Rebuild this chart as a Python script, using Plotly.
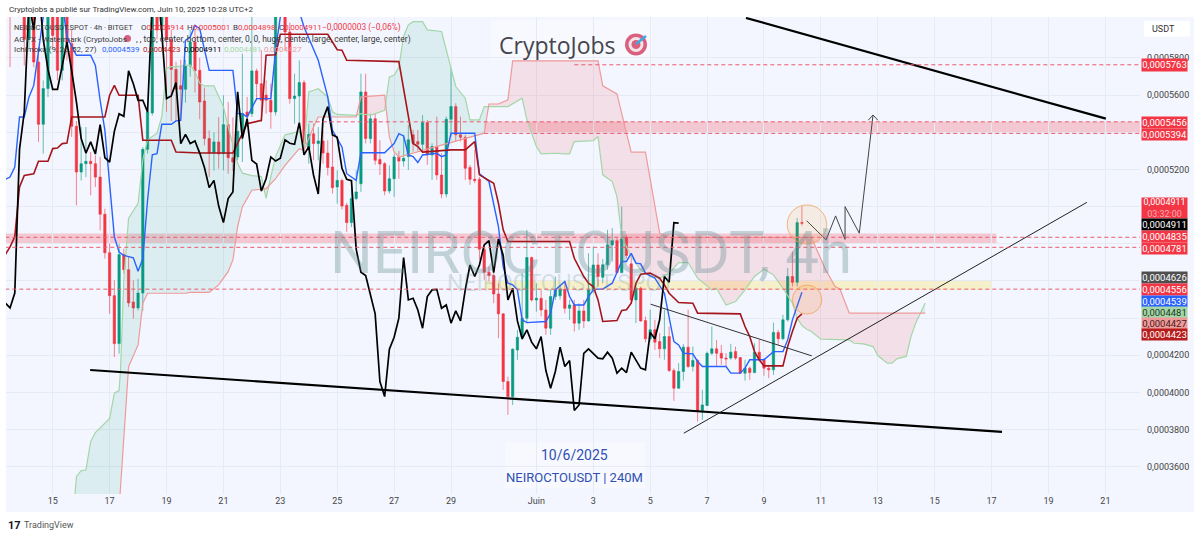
import numpy as np
import pandas as pd
import plotly.graph_objects as go

# Prices are in units of 1e-7 USDT, one row per 4h bar
opens = [6250,6300,6200,6300,6200,5900,6200,5778,5443,5635,6100,6030,5733,6050,5877,5432,5186,5231,5244,5231,
 5159,4959,4752,4521,4263,4742,4661,4487,4455,4535,5308,5504,6200,5950,6200,5900,5738,5650,5631,5757,
 5885,5733,5568,5366,5288,5348,5285,5441,5263,5267,5405,5509,5500,5730,5661,5600,5572,5509,6100,6150,
 5939,5581,5595,5667,5312,5392,5339,5353,5288,5213,5106,5141,5007,4914,5043,5123,5617,5366,5473,5254,
 5231,5084,5150,5267,5245,5269,5386,5350,5335,5452,5278,5323,5170,5068,5470,5538,5386,5373,5211,5147,
 5147,4771,4647,4629,4530,4423,4059,3978,4229,4297,4400,4726,4498,4507,4444,4346,4516,4520,4555,4453,
 4471,4373,4439,4385,4552,4686,4620,4687,4794,4817,4645,4835,4692,4498,4561,4387,4289,4337,4274,4235,
 4301,4118,4023,4113,4244,4140,4172,3903,3930,4211,4235,4211,4185,4185,4220,4188,4104,4131,4107,4217,
 4176,4131,4122,4323,4289,4391,4624,4593,4914]
highs = [6400,6400,6300,6450,6300,6300,6300,5850,5679,6300,6200,6200,6150,6100,5950,5460,5428,5428,5294,5276,
 5267,4989,4801,4604,4801,4774,4729,4604,4612,5320,5536,6200,6300,6300,6300,5950,5780,5790,5790,5950,
 5950,5800,5640,5410,5400,5482,5599,5563,5480,5617,5823,5590,6020,5742,5841,5680,5661,6200,6300,6200,
 5990,5715,5787,5680,5446,5446,5428,5410,5357,5392,5195,5150,5020,5097,5195,5715,5715,5500,5500,5357,
 5240,5222,5285,5300,5386,5440,5413,5413,5493,5466,5340,5484,5287,5484,5744,5556,5484,5386,5224,5305,
 5160,4803,4677,4642,4588,4426,4085,4238,4337,4642,4875,4731,4588,4552,4498,4552,4624,4580,4597,4498,
 4498,4480,4498,4749,4785,4749,4719,4875,4884,4830,5000,4848,4749,4590,4570,4409,4445,4391,4319,4445,
 4355,4130,4158,4260,4445,4247,4180,4014,4220,4355,4283,4256,4212,4262,4247,4190,4176,4140,4265,4283,
 4185,4149,4376,4337,4418,4669,4758,4938,5001]
lows = [5670,5751,6100,6150,5760,5850,5750,5348,5285,5590,5850,5680,5679,5787,5375,5007,5141,5159,5061,5106,
 4872,4720,4424,4191,4209,4640,4460,4397,4442,4439,5285,5490,5900,5900,5510,5460,5460,5480,5560,5700,
 5614,5470,5330,5160,5195,5204,5195,5177,5190,5249,5240,5428,5482,5572,5455,5500,5419,5490,6050,5841,
 5554,5446,5455,5290,5231,5249,5249,5231,5168,5070,5016,4985,4864,4890,5034,5079,5340,5340,5225,5170,
 5061,5070,5052,5150,5215,5197,5296,5300,5287,5224,5144,5144,5045,5050,5377,5350,5350,5144,5117,5126,
 4713,4606,4597,4480,4292,4014,3880,3933,4175,4283,4373,4489,4435,4409,4310,4310,4498,4500,4426,4391,
 4328,4337,4346,4382,4534,4570,4588,4660,4705,4642,4642,4720,4480,4373,4380,4270,4274,4229,4185,4176,
 4110,3955,4020,4064,4131,4113,3844,3853,3928,4202,4140,4149,4140,4176,4176,4100,4064,4068,4104,4167,
 4090,4077,4095,4256,4283,4382,4570,4570,4898]
closes = [6300,6150,6300,6350,5900,6200,5778,5443,5635,6100,5921,5733,6050,5880,5432,5186,5231,5244,5231,5159,
 4959,4752,4521,4263,4742,4661,4482,4455,4535,5308,5509,6100,5950,6200,5900,5738,5631,5631,5757,5885,
 5730,5563,5366,5288,5348,5283,5441,5263,5240,5405,5500,5486,5730,5661,5572,5572,5509,6100,6200,5939,
 5581,5595,5667,5339,5389,5339,5353,5288,5210,5102,5141,5003,4914,5043,5079,5617,5366,5473,5249,5229,
 5084,5150,5267,5245,5260,5359,5341,5335,5452,5278,5323,5170,5068,5470,5538,5386,5373,5206,5147,5140,
 4771,4647,4629,4530,4423,4059,3978,4233,4297,4400,4726,4498,4507,4444,4346,4516,4552,4555,4453,4471,
 4373,4439,4385,4552,4686,4624,4687,4794,4817,4645,4826,4737,4498,4561,4385,4289,4337,4271,4235,4301,
 4118,4023,4113,4244,4140,4172,3903,3933,4211,4235,4211,4185,4181,4217,4185,4104,4131,4107,4217,4176,
 4131,4122,4323,4289,4391,4624,4593,4914,4911]

tenkan_i = [0,1,2,3,4,5,6,7,8,9,12,13,15,18,19,20,21,22,23,24,25,27,28,29,30,31,32,33,35,36,37,38,39,40,41,43,48,49,50,51,53,56,57,58,60,62,63,66,68,69,71,72,74,75,80,82,83,84,85,86,87,88,91,92,93,94,99,100,102,104,105,106,107,108,109,110,114,115,116,118,119,120,122,123,124,125,126,128,129,130,131,132,133,134,135,137,139,140,141,142,143,145,146,147,152,153,155,156,157,160,162,164,165,166,167,168]
tenkan_v = [5147,5159,5213,5482,5482,5590,5652,5841,6020,6150,6100,5912,5814,5814,5760,5572,5410,5123,4837,4756,4738,4725,4652,4720,5034,5279,5285,5443,5443,5461,5464,5894,5912,5975,5957,5733,5733,5500,5500,5482,5581,5581,5841,6020,6150,6050,5966,5787,5590,5410,5321,5177,5141,5290,5290,5339,5392,5380,5278,5269,5237,5278,5287,5269,5278,5395,5395,5176,5135,4893,4677,4588,4579,4552,4391,4376,4382,4426,4552,4597,4516,4471,4471,4516,4552,4556,4556,4588,4642,4705,4705,4749,4696,4692,4642,4615,4534,4409,4274,4256,4211,4208,4167,4140,4140,4104,4104,4131,4176,4176,4220,4220,4283,4391,4471,4539]

kijun_i = [0,1,2,3,4,6,7,9,10,11,12,13,14,20,21,22,23,24,28,29,35,36,41,48,51,54,55,57,58,68,70,71,72,83,84,85,86,87,88,94,97,99,100,103,104,105,106,119,120,122,123,124,125,126,129,130,131,132,133,134,136,138,139,140,142,145,146,155,156,157,158,159,160,164,165,166,167,168]
kijun_v = [4742,4783,4837,5106,5168,5177,5244,5244,5312,5315,5339,5342,5482,5482,5482,5599,5652,5599,5599,5357,5357,5294,5288,5288,5446,5464,5814,5817,5927,5927,5844,5841,5787,5780,5640,5500,5340,5323,5293,5305,5305,5350,5171,5126,5018,4875,4812,4812,4722,4624,4588,4570,4498,4382,4387,4441,4445,4480,4588,4636,4642,4615,4579,4534,4484,4480,4427,4423,4355,4301,4220,4176,4143,4143,4247,4328,4400,4423]

span_a_i = [14.7,15,16,17,18,19,22,23,24,24.3,25,26,28,29,30,31,32,33,34,35,36,39,40,41,42,44,46,47,49,50,52,54,55,56,57,59,62,63,64,66,68,69,70,74,75,77,80,81,82,83,84,85,86,88,89,92,94,95,97,98,100,101,106,109,110,112,113,116,118,119,120,124,125,126,128,129,130,132,134,136,138,140,142,144,146,148,149,150,152,154,156,158,160,162,164,166,167,168,169,170,172,178,179,181,183,184,186,187,188,190,191,192,194]
span_a_v = [3453,3547,3580,3583,3736,3784,3861,3996,4010,4121,4605,4938,5018,5251,5359,5377,5395,5484,5744,5753,5753,5762,5727,5664,5649,5649,5538,5431,5233,5180,5167,5162,5045,5162,5269,5386,5404,5323,5617,5634,5590,5510,5496,5491,5500,5491,5518,5697,5706,5751,5915,5978,5995,5995,5951,5942,5753,5646,5583,5467,5467,5538,5538,5583,5467,5323,5284,5287,5284,5284,5350,5355,5377,5171,5135,5054,4839,4731,4660,4624,4615,4642,4699,4699,4615,4570,4552,4561,4471,4489,4552,4624,4663,4633,4561,4480,4400,4360,4340,4328,4287,4283,4265,4262,4247,4199,4158,4158,4181,4194,4301,4373,4481]

span_b_i = [24.2,25,26,27,28,29,30,38,39,43,45,47,48,49,50,52,55,57,59,62,63,65,66,74,75,80,81,82,83,101,102,104,106,107,125,126,129,131,132,135,138,140,170,171,173,175,176,178,194]
span_b_v = [3453,3763,4139,4197,4256,4480,4534,4534,4539,4539,4579,4650,4713,4893,5000,5088,5097,5150,5222,5312,5303,5428,5482,5482,5590,5599,5375,5294,5267,5395,5552,5552,5574,5784,5784,5650,5606,5395,5293,5293,4857,4835,4835,4776,4660,4570,4557,4427,4427]

floor_i = [17.9,210.2]
floor_v = [4121,3788]
ceiling_i = [156.2,232.1]
ceiling_v = [6015,5473]
rising_i = [143.1,228.1]
rising_v = [3781,5023]
falling_i = [136.1,170.1]
falling_v = [4475,4197]
path_i = [169.0,173.1,175.1,177.1,177.1,180.1,183.0]
path_v = [4924,4821,4950,4824,5000,4857,5493]
head_i = [182.0,183.0,184.0]
head_v = [5465,5493,5465]

levels = [5763,5456,5394,4835,4781,4556]
level_start = [120,64,101,0,0,0]

tick_prices = [3600,3800,4000,4200,4400,4600,4800,5000,5200,5400,5600,5800]
# labels at 4400-5000 and 5400 sit fully behind price tags in the reference
tick_price_text = ["0,0003600","0,0003800","0,0004000","0,0004200","","","","","0,0005200","","0,0005600","0,0005800"]
date_ticks = ["2025-05-15","2025-05-17","2025-05-19","2025-05-21","2025-05-23","2025-05-25","2025-05-27","2025-05-29",
              "2025-06-01","2025-06-03","2025-06-05","2025-06-07","2025-06-09","2025-06-11","2025-06-13","2025-06-15",
              "2025-06-17","2025-06-19","2025-06-21"]
date_text = ["15","17","19","21","23","25","27","29","Juin","3","5","7","9","11","13","15","17","19","21"]

# (text, top px, bottom px, background, text colour)
price_tags = [
 ("0,0005763",59.5,71,"#F23645","#ffffff"),("0,0005456",117,128,"#F23645","#ffffff"),
 ("0,0005394",129,140,"#F23645","#ffffff"),
 ("0,0004911<br><span style='color:#F9A9B0'>03:32:00</span>",198,218,"#F23645","#ffffff"),
 ("0,0004911",218.5,229.5,"#000000","#ffffff"),("0,0004835",231.5,242,"#F23645","#ffffff"),
 ("0,0004781",242.5,253.5,"#F23645","#ffffff"),("0,0004626",271.5,282.5,"#4F4F4F","#ffffff"),
 ("0,0004556",284,295,"#F23645","#ffffff"),("0,0004539",295.5,306.5,"#2962FF","#ffffff"),
 ("0,0004481",306.5,317.5,"#A5D6A7","#1b3a1e"),("0,0004427",318,329,"#EF9A9A","#4a1a1a"),
 ("0,0004423",329,340,"#B71C1C","#ffffff")]

BASE = pd.Timestamp("2025-06-10 08:00")
def when(i):
    return [BASE + pd.Timedelta(hours=4 * (float(k) - 168)) for k in np.atleast_1d(i)]
def price(v):
    return (np.asarray(v, dtype=float) * 1e-7).tolist()

PL, PR, PT, PB = 6, 1140, 17, 494
def px(x): return (x - PL) / (PR - PL)
def py(y): return (PB - y) / (PB - PT)

BG = "#F3F6FE"
fig = go.Figure()

# Ichimoku cloud
grid = np.arange(14.7, 194.01, 0.1)
a = np.interp(grid, span_a_i, span_a_v)
b = np.interp(grid, span_b_i, span_b_v)
sign = a >= b
start = 0
for k in range(1, len(grid) + 1):
    if k == len(grid) or sign[k] != sign[start]:
        g, ga, gb = grid[start:k + 1], a[start:k + 1], b[start:k + 1]
        col = "rgba(8,153,129,0.10)" if sign[start] else "rgba(242,54,69,0.12)"
        fig.add_trace(go.Scatter(x=when(np.r_[g, g[::-1]]), y=price(np.r_[ga, gb[::-1]]), mode="lines",
                                 fill="toself", fillcolor=col, line=dict(width=0), hoverinfo="skip", showlegend=False))
        start = k

idx = np.arange(len(closes))
fig.add_trace(go.Candlestick(x=when(idx), open=price(opens), high=price(highs), low=price(lows), close=price(closes),
    increasing=dict(line=dict(color="rgba(8,153,129,0.6)", width=1), fillcolor="#089981"),
    decreasing=dict(line=dict(color="rgba(242,54,69,0.6)", width=1), fillcolor="#F23645"),
    whiskerwidth=0, showlegend=False))

def line(i, v, color, width):
    fig.add_trace(go.Scatter(x=when(i), y=price(v), mode="lines", line=dict(color=color, width=width),
                             hoverinfo="skip", showlegend=False))
line(span_a_i, span_a_v, "#A5D6A7", 1.2)
line(span_b_i, span_b_v, "#EF9A9A", 1.2)
line(tenkan_i, tenkan_v, "#2962FF", 1.4)
line(kijun_i, kijun_v, "#A5161C", 1.6)
line(idx[:-26], closes[26:], "#000000", 1.7)
line(floor_i, floor_v, "#000000", 2.2)
line(ceiling_i, ceiling_v, "#000000", 2.2)
line(rising_i, rising_v, "#222222", 1)
line(falling_i, falling_v, "#333333", 1)
line(path_i, path_v, "#444444", 1)
line(head_i, head_v, "#444444", 1)

shapes = [dict(type="rect", xref="paper", yref="paper", x0=0, x1=px(1194), y0=py(512), y1=1,
               fillcolor=BG, line_width=0, layer="below")]
def band(i0, i1, v0, v1, col):
    shapes.append(dict(type="rect", xref="x", yref="y", x0=when(i0)[0], x1=when(i1)[0], y0=v0 * 1e-7, y1=v1 * 1e-7,
                       fillcolor=col, line_width=0, layer="below"))
band(101, 239.3, 5394, 5456, "rgba(242,54,69,0.24)")
band(0, 209, 4803, 4855, "rgba(242,54,69,0.24)")
band(101, 208, 4552, 4602, "rgba(255,225,70,0.28)")
for x0, x1, y0, y1 in [(490, 652, 20, 60), (505, 645, 442, 488)]:
    shapes.append(dict(type="rect", xref="paper", yref="paper", x0=px(x0), x1=px(x1), y0=py(y1), y1=py(y0),
                       fillcolor="rgba(255,255,255,0.35)", line_width=0, layer="below"))
for lv, s in zip(levels, level_start):
    shapes.append(dict(type="line", xref="x", yref="y", x0=when(s)[0], x1=when(239.3)[0], y0=lv * 1e-7, y1=lv * 1e-7,
                       line=dict(color="#EA5A6C", width=1, dash="4px,3px"), layer="above"))
for i0, i1, v0, v1 in [(164.9, 173.2, 4799, 5009), (166.0, 172.2, 4422, 4578)]:
    shapes.append(dict(type="circle", xref="x", yref="y", x0=when(i0)[0], x1=when(i1)[0], y0=v0 * 1e-7, y1=v1 * 1e-7,
                       fillcolor="rgba(255,152,0,0.10)", line=dict(color="rgba(240,160,80,0.75)", width=1), layer="above"))
# price-axis tags
anns = []
for text, top, bot, bg, fg in price_tags:
    anns.append(dict(xref="paper", yref="paper", x=px(1164.2), y=py((top + bot) / 2), text=text, showarrow=False,
                     xanchor="center", yanchor="middle",
                     width=45, height=bot - top, bgcolor=bg, borderpad=0, align="center", valign="middle",
                     font=dict(family="Roboto", size=9.5 if "span" not in text else 9, color=fg)))
# target icon
for x0, r, c in [(636, 11, "#D9607F"), (636, 7.5, "#F4E4E8"), (636, 4.5, "#D9607F")]:
    shapes.append(dict(type="circle", xref="paper", yref="paper", x0=px(x0 - r), x1=px(x0 + r), y0=py(44.5 + r), y1=py(44.5 - r),
                       fillcolor=c, line_width=0))
shapes.append(dict(type="line", xref="paper", yref="paper", x0=px(636), x1=px(646), y0=py(44), y1=py(36),
                   line=dict(color="#3FA7E0", width=2.5)))
shapes.append(dict(type="circle", xref="paper", yref="paper", x0=px(124), x1=px(131), y0=py(42), y1=py(35),
                   fillcolor="#D9607F", line_width=0))
shapes.append(dict(type="rect", xref="paper", yref="paper", x0=px(1144), x1=px(1190), y0=py(36.5), y1=py(21),
                   fillcolor="#ffffff", line_width=0))

def label(x, y, text, size, color, family="Roboto", anchor="left"):
    anns.append(dict(xref="paper", yref="paper", x=px(x), y=py(y), text=text, showarrow=False, xanchor=anchor, yanchor="middle",
                     font=dict(family=family, size=size, color=color)))

label(1150, 29, "USDT", 9, "#333333")
label(7, 9.5, "Cryptojobs a publié sur TradingView.com, Juin 10, 2025 10:28 UTC+2", 8, "#333333")
R = "#F23645"; K = "#3a3a3a"
FS = 8
label(12, 28, "NEIROCTOUSDT.SPOT · 4h · BITGET", 7.5, K)
for x, letter, val in [(139, "O", "0,0004914"), (185, "H", "0,0005001"), (231, "B", "0,0004898"), (277, "C", "0,0004911")]:
    label(x, 28, f"{letter}<span style='color:{R}'>{val}</span>", FS, K)
label(320, 28, "−0,0000003 (−0,06%)", 8.4, R)
label(12, 39, "AG FX - Watermark (CryptoJobs", 8, K)
label(134, 39, ", , top, center, bottom, center, 0, 0, huge, center, large, center, large, center)", 8.5, K)
label(12, 49.5, "Ichimoku (9, 26, 52, 27)", FS, K)
for x, val, c in [(100, "0,0004539", "#2962FF"), (141, "0,0004423", "#B71C1C"), (182, "0,0004911", "#000000"),
                  (222, "0,0004481", "#A5D6A7"), (262, "0,0004427", "#EF9A9A")]:
    label(x, 49.5, val, FS, c)

label(328, 252, "NEIROCTOUSDT, 4h", 60, "rgba(90,135,140,0.33)")
label(445, 283, "NEIROCTOUSDT.SPOT", 23, "rgba(90,135,140,0.22)")
label(497, 45, "CryptoJobs", 23, "#45464E", family="Open Sans")
label(574, 455, "10/6/2025", 14, "#2F4FB3", anchor="center")
label(574, 477.5, "NEIROCTOUSDT | 240M", 13, "#2F4FB3", anchor="center")
label(6, 525, "<b>17</b>", 11, "#131722")
label(22, 525, "TradingView", 9, "#555555")

fig.update_layout(width=1200, height=536, autosize=False, margin=dict(l=PL, r=1200 - PR, t=PT, b=536 - PB),
                  paper_bgcolor="#ffffff", plot_bgcolor=BG, shapes=shapes, annotations=anns, showlegend=False,
                  xaxis=dict(type="date", range=[when(0.148)[0], when(239.3)[0]], rangeslider=dict(visible=False),
                             tickmode="array", tickvals=date_ticks, ticktext=date_text, showgrid=True, gridcolor="#E6EAF4",
                             gridwidth=1, zeroline=False, showline=False, ticks="", tickfont=dict(family="Roboto", size=9, color="#444444")),
                  yaxis=dict(side="right", range=[3454e-7, 6020e-7], tickmode="array", tickvals=price(tick_prices), ticktext=tick_price_text,
                             showgrid=True, gridcolor="#E6EAF4", gridwidth=1, zeroline=False, showline=False, ticks="",
                             ticklabelstandoff=6, tickfont=dict(family="Roboto", size=9, color="#444444")))
fig.write_html("out.html", config={"displayModeBar": False},
               post_script="document.body.style.margin='0';document.body.style.overflow='hidden';")
